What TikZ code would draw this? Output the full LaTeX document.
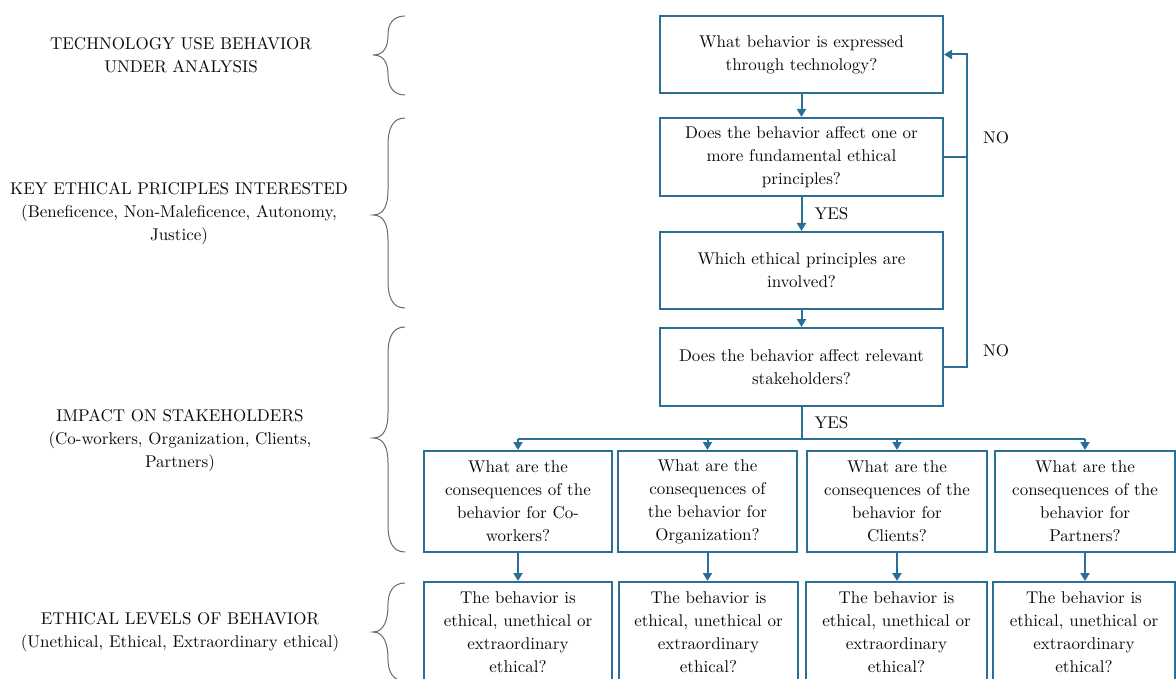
\documentclass[tikz,border=0pt]{standalone}
\usepackage{fontspec}
\setmainfont{lmroman10-regular.otf}
\usetikzlibrary{arrows.meta}
\definecolor{flowblue}{RGB}{42,111,149}
\definecolor{bracegray}{RGB}{105,105,105}
\definecolor{ink}{RGB}{10,10,10}
\begin{document}
\begin{tikzpicture}[x=1pt,y=-1pt,
  font=\rmfamily\fontsize{17}{23}\selectfont,
  box/.style={draw=flowblue, line width=2pt, inner sep=0pt, align=center, text=ink},
  arr/.style={draw=flowblue, line width=2pt, -{Triangle[length=8pt,width=9pt]}},
  link/.style={draw=flowblue, line width=2pt},
  bracepath/.style={draw=bracegray, line width=1pt},
  lab/.style={align=center, text=ink, inner sep=0pt}
]
\useasboundingbox (0,0) rectangle (1176,679);
\clip (0,0) rectangle (1176,679);

% main decision column
\node[box, minimum width=283pt, minimum height=77pt] (q1) at (801.5,54.5)
  {What behavior is expressed\\through technology?};
\node[box, minimum width=283pt, minimum height=78pt] (q2) at (801.5,157)
  {Does the behavior affect one or\\more fundamental ethical\\principles?};
\node[box, minimum width=283pt, minimum height=77pt] (q3) at (801.5,270.5)
  {Which ethical principles are\\involved?};
\node[box, minimum width=283pt, minimum height=78pt] (q4) at (801.5,367)
  {Does the behavior affect relevant\\stakeholders?};

% consequences per stakeholder
\node[box, minimum width=188pt, minimum height=101pt] (c1) at (518,501.5)
  {What are the\\consequences of the\\behavior for Co-\\workers?};
\node[box, minimum width=179pt, minimum height=101pt] (c2) at (707.5,501.5)
  {What are the\\consequences of\\the behavior for\\Organization?};
\node[box, minimum width=180pt, minimum height=101pt] (c3) at (897,501.5)
  {What are the\\consequences of the\\behavior for\\Clients?};
\node[box, minimum width=180pt, minimum height=101pt] (c4) at (1085,501.5)
  {What are the\\consequences of the\\behavior for\\Partners?};

% ethical level per stakeholder
\node[box, minimum width=188pt, minimum height=101pt] (e1) at (518,632.5)
  {The behavior is\\ethical, unethical or\\extraordinary\\ethical?};
\node[box, minimum width=179pt, minimum height=101pt] (e2) at (708.5,632.5)
  {The behavior is\\ethical, unethical or\\extraordinary\\ethical?};
\node[box, minimum width=181pt, minimum height=101pt] (e3) at (896.5,632.5)
  {The behavior is\\ethical, unethical or\\extraordinary\\ethical?};
\node[box, minimum width=182pt, minimum height=101pt] (e4) at (1084,632.5)
  {The behavior is\\ethical, unethical or\\extraordinary\\ethical?};

% vertical flow
\draw[arr] (q1.south) -- (q2.north);
\draw[arr] (q2.south) -- node[anchor=west, xshift=12pt, inner sep=0pt, text=ink] (yes1) {YES} (q3.north);
\draw[arr] (q3.south) -- (q4.north);

% branching to stakeholders
\coordinate (split) at (801.5,439);
\draw[link] (q4.south) -- node[anchor=west, xshift=12pt, inner sep=0pt, text=ink] (yes2) {YES} (split);
\draw[link] (c1.north |- split) -- (c4.north |- split);
\foreach \n in {c1,c2,c3,c4} \draw[arr] (\n.north |- split) -- (\n.north);
\foreach \a/\b in {c1/e1,c2/e2,c3/e3,c4/e4} \draw[arr] (\a.south) -- (\a.south |- \b.north);

% NO feedback loop
\coordinate (loop) at (967,54.5);
\draw[arr] (q4.east) -| (loop) -- (q1.east);
\draw[link] (q2.east) -- (q2.east -| loop);
\node[text=ink] (no1) at (996,138) {NO};
\node[text=ink] (no2) at (996,351) {NO};

% level captions
\node[lab] (t1) at (181,55.5) {TECHNOLOGY USE BEHAVIOR\\UNDER ANALYSIS};
\node[lab] (t2) at (179,214) {KEY ETHICAL PRICIPLES INTERESTED\\(Beneficence, Non-Maleficence, Autonomy,\\Justice)};
\node[lab] (t3) at (180,441) {IMPACT ON STAKEHOLDERS\\(Co-workers, Organization, Clients,\\Partners)};
\node[lab] (t4) at (180,632.5) {ETHICAL LEVELS OF BEHAVIOR\\(Unethical, Ethical, Extraordinary ethical)};

% curly braces
\draw[bracepath] (405,16) .. controls (393,16) and (388,24) .. (388,35)
  .. controls (388,47) and (384,55) .. (373,55)
  .. controls (384,55) and (388,63) .. (388,75)
  .. controls (388,86) and (393,95) .. (405,95);
\draw[bracepath] (405,118) .. controls (393,118) and (388,128) .. (388,145) -- (388,190)
  .. controls (388,205) and (384,215) .. (373,215)
  .. controls (384,215) and (388,225) .. (388,240) -- (388,281)
  .. controls (388,298) and (393,308) .. (405,308);
\draw[bracepath] (405,327) .. controls (393,327) and (388,337) .. (388,354) -- (388,413)
  .. controls (388,428) and (384,438) .. (373,438)
  .. controls (384,438) and (388,448) .. (388,463) -- (388,525)
  .. controls (388,542) and (393,552) .. (405,552);
\draw[bracepath] (405,583) .. controls (393,583) and (388,592) .. (388,605)
  .. controls (388,620) and (384,632) .. (373,632)
  .. controls (384,632) and (388,644) .. (388,659)
  .. controls (388,672) and (393,681) .. (405,681);
\end{tikzpicture}
\end{document}
